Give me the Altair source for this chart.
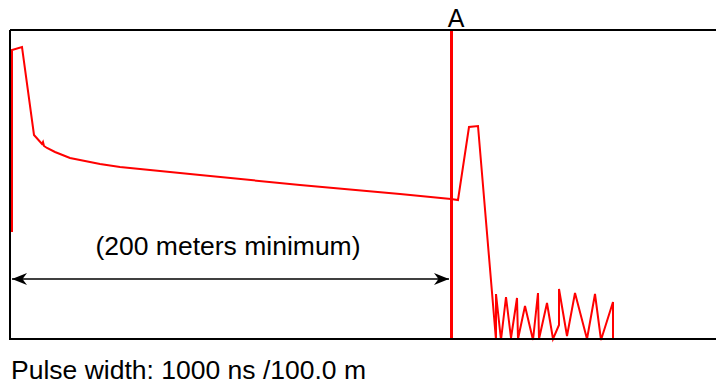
import altair as alt
import pandas as pd

# OTDR trace (distance units along x, signal level along y)
trace_x = [2, 2, 12, 24, 32, 33, 34, 37, 45, 60, 75, 90, 110, 190, 290, 390, 441, 448,
           459, 468, 486, 486, 491, 496, 501, 507, 508, 515, 523, 528, 529, 537, 543,
           549, 549, 557, 565, 577, 585, 591, 603, 603]
trace_y = [108, 290, 293, 205, 196, 198, 194, 192, 188, 182, 179, 176, 173, 165, 155, 146, 141, 140,
           213, 214, 0, 46, 0, 43, 2, 42, 1, 34, 0, 47, 1, 37, 1,
           15, 51, 4, 47, 1, 46, 0, 38, 1]

marker_x = [441.5]
marker_label = ["A"]
arrow_x = [2, 439]
arrow_level = 61
span_label = "(200 meters minimum)"
pulse_label = "Pulse width: 1000 ns /100.0 m"

frame_top = [310]
frame_bottom = [1]
frame_left = [0]

W = 706
X_DOMAIN = [0, W]
Y_DOMAIN = [0, 310]
xs = alt.Scale(domain=X_DOMAIN, nice=False, zero=False)
ys = alt.Scale(domain=Y_DOMAIN, nice=False, zero=False)
FONT = "Liberation Sans"


def X(f="x:Q"):
    return alt.X(f, scale=xs, axis=None)


def Y(f="y:Q"):
    return alt.Y(f, scale=ys, axis=None)


frame_h = alt.Chart(pd.DataFrame({"y": frame_top + frame_bottom})).mark_rule(
    color="black", strokeWidth=2
).encode(y=Y())
frame_v = alt.Chart(pd.DataFrame({"x": frame_left})).mark_rule(
    color="black", strokeWidth=2
).encode(x=X())

trace_df = pd.DataFrame({"x": trace_x, "y": trace_y, "i": list(range(len(trace_x)))})
trace = alt.Chart(trace_df).mark_line(color="#ff0000", strokeWidth=2, clip=False).encode(
    x=X(), y=Y(), order="i:Q"
)

marker = alt.Chart(pd.DataFrame({"x": marker_x})).mark_rule(color="#ff0000", strokeWidth=3).encode(
    x=X()
)

marker_text = alt.Chart(pd.DataFrame({"x": [marker_x[0] + 4.5], "y": [313.5], "t": marker_label})).mark_text(
    font=FONT, fontSize=25, align="center", baseline="alphabetic", color="black"
).encode(x=X(), y=Y(), text="t:N")

arrow_df = pd.DataFrame({"x": [arrow_x[0]], "x2": [arrow_x[1]], "y": [arrow_level]})
arrow_line = alt.Chart(arrow_df).mark_rule(color="black", strokeWidth=1.5).encode(
    x=X(), x2="x2:Q", y=Y()
)

left_head = alt.Chart(pd.DataFrame({"x": [arrow_x[0]], "y": [arrow_level]})).mark_point(
    shape="M 0 0 L 2 -0.8 L 1.4 0 L 2 0.8 Z", filled=True, color="black", size=225, opacity=1, strokeWidth=0
).encode(x=X(), y=Y())

right_head = alt.Chart(pd.DataFrame({"x": [arrow_x[1]], "y": [arrow_level]})).mark_point(
    shape="M 0 0 L -2 -0.8 L -1.4 0 L -2 0.8 Z", filled=True, color="black", size=225, opacity=1, strokeWidth=0
).encode(x=X(), y=Y())

span_text = alt.Chart(pd.DataFrame({"x": [218], "y": [85], "t": [span_label]})).mark_text(
    font=FONT, fontSize=26.5, align="center", baseline="alphabetic", color="black"
).encode(x=X(), y=Y(), text="t:N")

pulse_text = alt.Chart(pd.DataFrame({"x": [1], "y": [-39], "t": [pulse_label]})).mark_text(
    font=FONT, fontSize=26.5, align="left", baseline="alphabetic", color="black"
).encode(x=X(), y=Y(), text="t:N")

chart = alt.layer(
    trace, marker, frame_h, frame_v, arrow_line, left_head, right_head,
    marker_text, span_text, pulse_text
).properties(
    width=W,
    height=310,
    autosize=alt.AutoSizeParams(type="none"),
    padding={"left": 2, "top": 22, "right": 0, "bottom": 48},
).configure_view(
    strokeWidth=0
)

chart.save("out.html", embed_options={"renderer": "svg", "actions": False})
